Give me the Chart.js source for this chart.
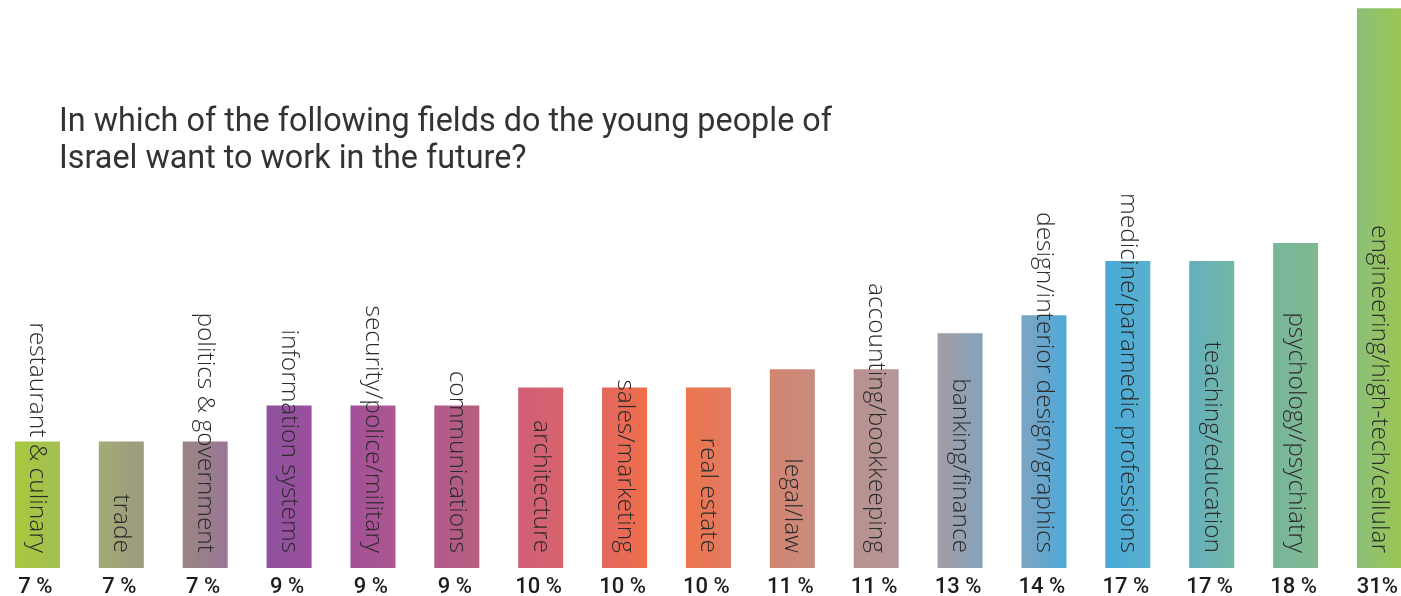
<!DOCTYPE html>
<html>
<head>
<meta charset="utf-8">
<script src="https://cdn.jsdelivr.net/npm/chart.js@4/dist/chart.umd.min.js"></script>
<style>
  html, body { margin: 0; padding: 0; background: #fff; overflow: hidden; }
  #wrap { position: absolute; left: -5px; top: 0; width: 1430px; height: 596px; }
</style>
</head>
<body>
<div id="wrap"><canvas id="chart" width="1430" height="596"></canvas></div>
<script>
const categories = [
  'restaurant & culinary', 'trade', 'politics & government', 'information systems',
  'security/police/military', 'communications', 'architecture', 'sales/marketing',
  'real estate', 'legal/law', 'accounting/bookkeeping', 'banking/finance',
  'design/interior design/graphics', 'medicine/paramedic professions',
  'teaching/education', 'psychology/psychiatry', 'engineering/high-tech/cellular'
];
const shares = [7, 7, 7, 9, 9, 9, 10, 10, 10, 11, 11, 13, 14, 17, 17, 18, 31];
const pctLabels = ['7 %', '7 %', '7 %', '9 %', '9 %', '9 %', '10 %', '10 %', '10 %',
  '11 %', '11 %', '13 %', '14 %', '17 %', '17 %', '18 %', '31%'];
const colorsLeft = ['#a7c93c', '#a3ab76', '#9a8584', '#8f52a0', '#a24f98', '#b05a8a',
  '#cf5f78', '#e2665e', '#ee744c', '#d2846e', '#b8918e', '#a49ca4', '#7ea4c2',
  '#4aa9da', '#64b0bc', '#78b69c', '#8bbf78'];
const colorsRight = ['#a3bf52', '#9c9a80', '#9a7796', '#9a4f9c', '#ad5890', '#b65f80',
  '#d8646c', '#ef6e4a', '#e07c62', '#c98c80', '#b5979a', '#84a3bd', '#4fa9d8',
  '#58b1cc', '#74b6a6', '#80b88e', '#9bc652'];
const titleLines = ['In which of the following fields do the young people of',
  'Israel want to work in the future?'];

const barFill = (c) => {
  const chart = c.chart;
  const i = c.dataIndex;
  if (!chart.chartArea || i === undefined) return colorsLeft[i] || '#999';
  const x = chart.scales.x.getPixelForValue(i);
  const g = chart.ctx.createLinearGradient(x - 23, 0, x + 23, 0);
  g.addColorStop(0, colorsLeft[i]);
  g.addColorStop(1, colorsRight[i]);
  return g;
};

const textPlugin = {
  id: 'texts',
  afterDatasetsDraw(chart) {
    const ctx = chart.ctx;
    const xs = chart.scales.x;
    ctx.save();
    ctx.fillStyle = '#2b2b2b';
    // names written downwards across the bars
    ctx.font = '300 24.5px "Open Sans"';
    ctx.textAlign = 'right';
    ctx.textBaseline = 'alphabetic';
    categories.forEach((name, i) => {
      ctx.save();
      ctx.translate(xs.getPixelForValue(i), 553);
      ctx.rotate(Math.PI / 2);
      ctx.fillText(name, 0, 7);
      ctx.restore();
    });
    // percentages under the bars
    ctx.fillStyle = '#1c1c1c';
    ctx.font = '500 22px Roboto';
    ctx.textAlign = 'center';
    pctLabels.forEach((t, i) => {
      ctx.fillText(t, xs.getPixelForValue(i) - 2, 593);
    });
    // title
    ctx.fillStyle = '#333333';
    ctx.font = '400 34px Roboto';
    ctx.textAlign = 'left';
    const sx = 773 / ctx.measureText(titleLines[0]).width;
    titleLines.forEach((line, k) => {
      ctx.save();
      ctx.translate(64, 131 + k * 37);
      ctx.scale(sx, 1);
      ctx.fillText(line, 0, 0);
      ctx.restore();
    });
    ctx.restore();
  }
};

new Chart(document.getElementById('chart').getContext('2d'), {
  type: 'bar',
  data: {
    labels: categories,
    datasets: [{
      data: shares,
      backgroundColor: barFill,
      borderWidth: 0,
      barPercentage: 0.5365,
      categoryPercentage: 1
    }]
  },
  options: {
    responsive: false,
    animation: false,
    devicePixelRatio: 1,
    layout: { padding: { left: 0.5, right: 3.6, top: 0, bottom: 28 } },
    plugins: { legend: { display: false }, tooltip: { enabled: false }, title: { display: false } },
    scales: {
      x: { display: false },
      y: { display: false, min: 0, max: 31.45 }
    }
  },
  plugins: [textPlugin]
});
</script>
</body>
</html>
